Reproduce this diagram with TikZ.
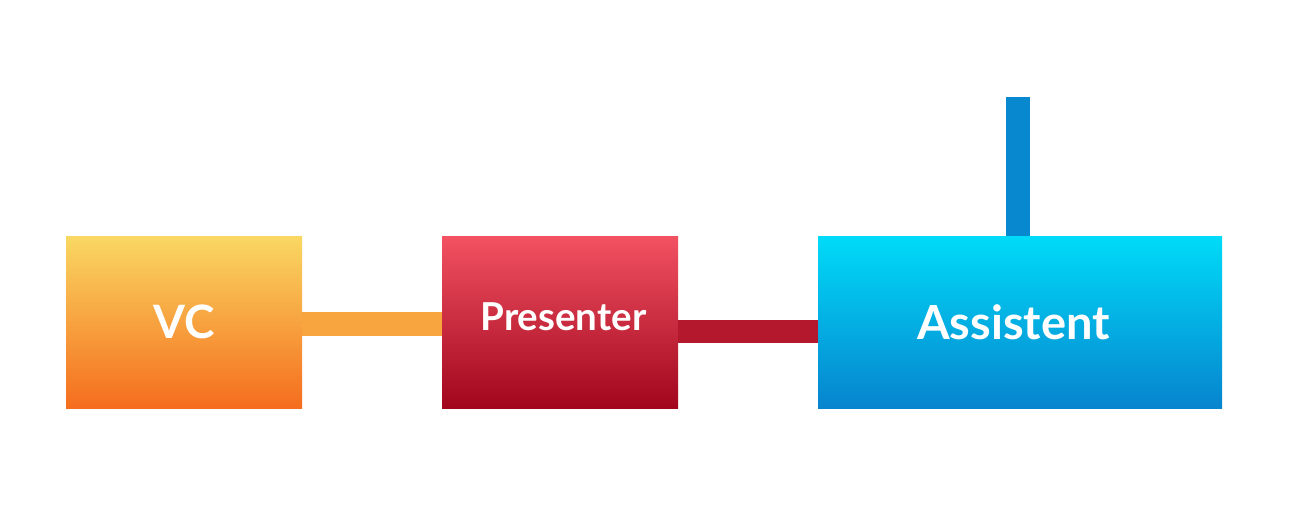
\documentclass[tikz,border=0pt]{standalone}
\usepackage{fontspec}
\setmainfont{Lato}
\definecolor{vctop}{HTML}{F9D862}
\definecolor{vcbot}{HTML}{F56D1E}
\definecolor{prtop}{HTML}{F25262}
\definecolor{prbot}{HTML}{A1061D}
\definecolor{astop}{HTML}{00DBF8}
\definecolor{asbot}{HTML}{0784CE}
\definecolor{orline}{HTML}{F9A53F}
\definecolor{rdline}{HTML}{B3182D}
\definecolor{blline}{HTML}{0888CF}
\begin{document}
\begin{tikzpicture}[x=1pt,y=-1pt,
  box/.style={rectangle, inner sep=0pt, minimum height=172pt},
  conn/.style={line width=24pt},
  lbl/.style={text=white, inner sep=0pt}]
\useasboundingbox (0,0) rectangle (1310,522);
\fill[white] (0,0) rectangle (1310,522);
\coordinate (top) at (1018,97);
\node[box, minimum width=236pt, top color=vctop, bottom color=vcbot] (vc) at (184,322) {};
\node[box, minimum width=236pt, top color=prtop, bottom color=prbot] (pr) at (560,322) {};
\node[box, minimum width=404pt, top color=astop, bottom color=asbot] (as) at (1020,322) {};
\draw[conn, orline] (vc.east |- 0,324) -- (pr.west |- 0,324);
\draw[conn, rdline, line width=23pt] (pr.east |- 0,331) -- (as.west |- 0,331);
\draw[conn, blline] (top) -- (top |- as.north);
\node[lbl, font=\bfseries\fontsize{46}{46}\selectfont] (vct) at (184.5,322) {VC};
\node[lbl, font=\bfseries\fontsize{38.5}{38.5}\selectfont] (prt) at (563.5,317) {Presenter};
\node[lbl, font=\bfseries\fontsize{47}{47}\selectfont] (ast) at (1013.5,322) {Assistent};
\end{tikzpicture}
\end{document}
